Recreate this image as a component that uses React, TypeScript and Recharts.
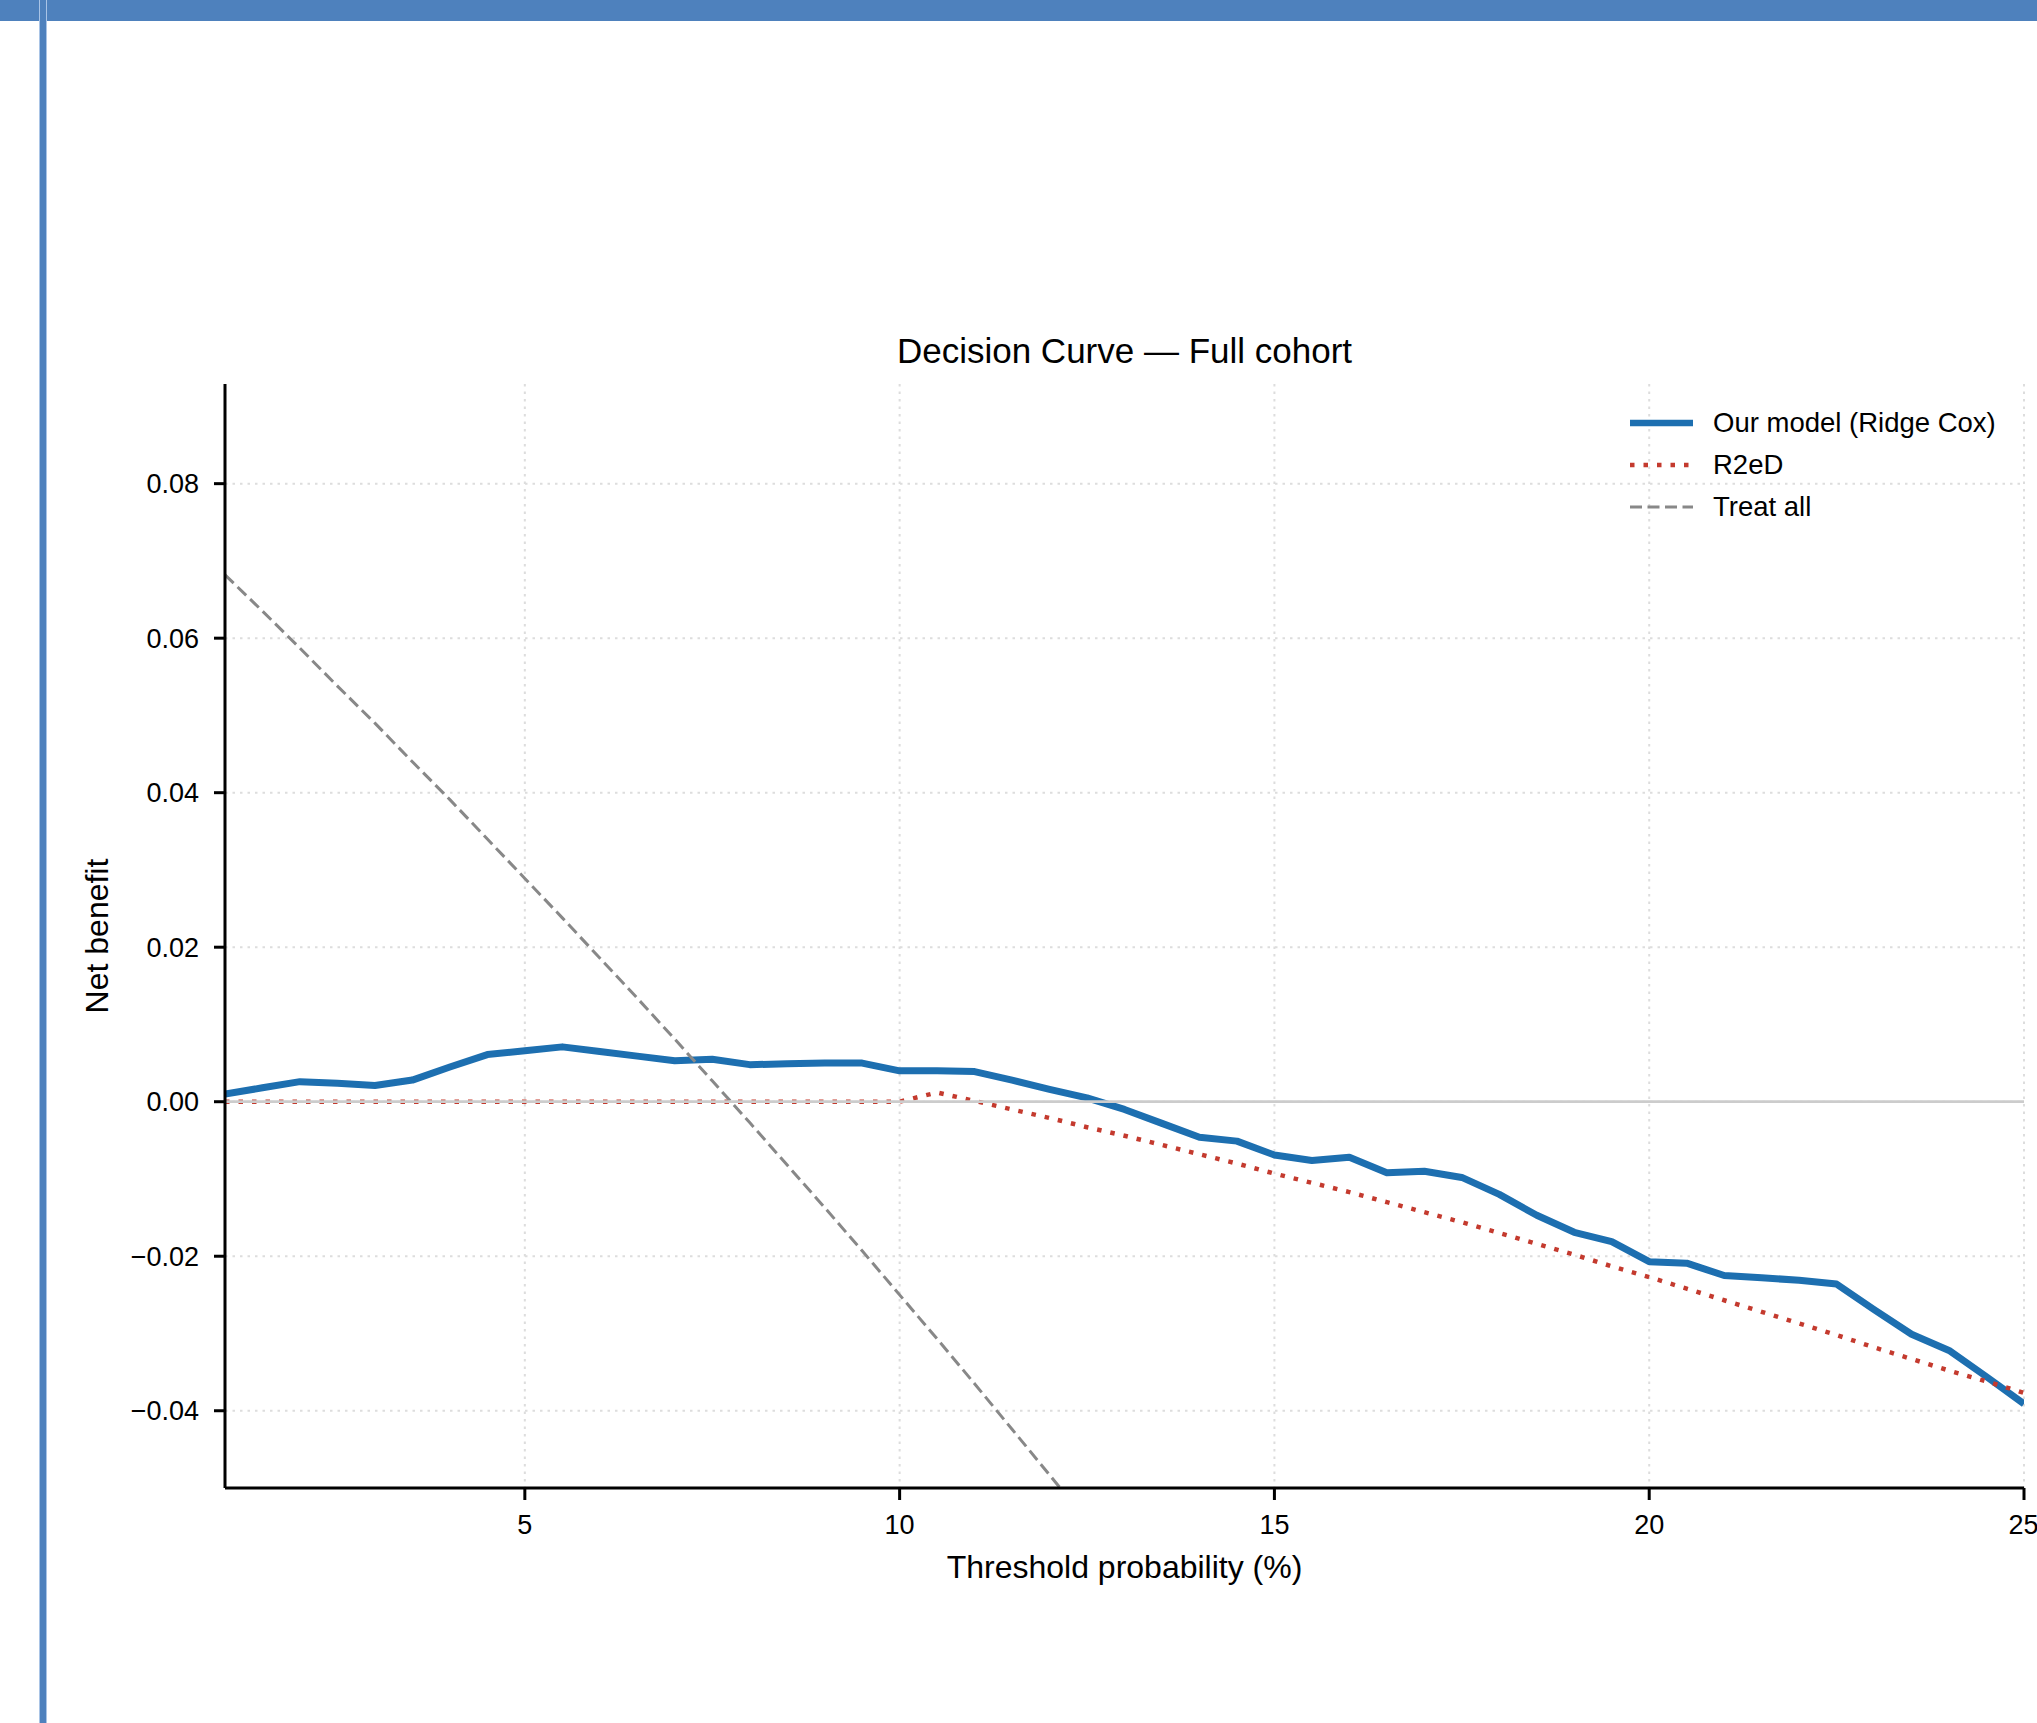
import React from "react";
import {
  LineChart,
  Line,
  XAxis,
  YAxis,
  CartesianGrid,
  ReferenceLine,
  Label,
} from "recharts";

const FONT = '"Liberation Sans", Arial, Helvetica, sans-serif';

const BLUE = "#1d6fb0";
const RED = "#c43a2e";
const GRAY = "#888888";
const FRAME = "#4e81bd";

// threshold probability (%), 0.5 steps
const thresholds = [
  1, 1.5, 2, 2.5, 3, 3.5, 4, 4.5, 5, 5.5, 6, 6.5, 7, 7.5, 8, 8.5, 9, 9.5, 10,
  10.5, 11, 11.5, 12, 12.5, 13, 13.5, 14, 14.5, 15, 15.5, 16, 16.5, 17, 17.5,
  18, 18.5, 19, 19.5, 20, 20.5, 21, 21.5, 22, 22.5, 23, 23.5, 24, 24.5, 25,
];

// net benefit, our model (Ridge Cox)
const modelNB = [
  0.001, 0.0018, 0.0026, 0.0024, 0.0021, 0.0028, 0.0045, 0.0061, 0.0066,
  0.0071, 0.0065, 0.0059, 0.0053, 0.0055, 0.0048, 0.0049, 0.005, 0.005, 0.004,
  0.004, 0.0039, 0.0028, 0.0016, 0.0005, -0.001, -0.0028, -0.0046, -0.0051,
  -0.0069, -0.0076, -0.0072, -0.0092, -0.009, -0.0098, -0.012, -0.0147,
  -0.0169, -0.0181, -0.0207, -0.0209, -0.0225, -0.0228, -0.0231, -0.0236,
  -0.0269, -0.0301, -0.0322, -0.0356, -0.0391,
];

// net benefit, R2eD
const r2edNB = [
  0, 0, 0, 0, 0, 0, 0, 0, 0, 0, 0, 0, 0, 0, 0, 0, 0, 0, 0, 0.0012, 0.0001,
  -0.001, -0.0021, -0.0033, -0.0044, -0.0056, -0.0068, -0.008, -0.0093,
  -0.0105, -0.0117, -0.013, -0.0143, -0.0156, -0.017, -0.0184, -0.0198,
  -0.0213, -0.0227, -0.0242, -0.0257, -0.0272, -0.0287, -0.0302, -0.0318,
  -0.0333, -0.0348, -0.0362, -0.0377,
];

// net benefit, treat all (runs off the bottom after ~12%)
const treatAllNB = [
  0.0682, 0.0635, 0.0587, 0.0538, 0.049, 0.044, 0.0391, 0.034, 0.0289,
  0.0238, 0.0186, 0.0134, 0.0081, 0.0027, -0.0027, -0.0082, -0.0137,
  -0.0193, -0.025, -0.0307, -0.0365, -0.0424, -0.0483, -0.0543, null, null,
  null, null, null, null, null, null, null, null, null, null, null, null, null,
  null, null, null, null, null, null, null, null, null, null,
];

const xTicks = [5, 10, 15, 20, 25];
const yTicks = [-0.04, -0.02, 0, 0.02, 0.04, 0.06, 0.08];

const rows = thresholds.map((t, i) => ({
  t,
  model: modelNB[i],
  r2ed: r2edNB[i],
  treatAll: treatAllNB[i],
}));

const legendItems = [
  { name: "Our model (Ridge Cox)", color: BLUE, width: 6.5, dash: undefined },
  { name: "R2eD", color: RED, width: 4.5, dash: "4.5 9" },
  { name: "Treat all", color: GRAY, width: 3, dash: "12 5.5" },
];

const fmtY = (v: number) =>
  v < 0 ? `\u2212${Math.abs(v).toFixed(2)}` : v.toFixed(2);

const tickStyle = { fontSize: 27, fill: "#000", fontFamily: FONT };

function YTitle(props: any) {
  const vb = props.viewBox;
  const cx = vb.x + 12;
  const cy = vb.y + vb.height / 2;
  return (
    <text
      x={cx}
      y={cy}
      transform={`rotate(-90 ${cx} ${cy})`}
      textAnchor="middle"
      dominantBaseline="central"
      fontSize={32}
      fontFamily={FONT}
      fill="#000"
    >
      Net benefit
    </text>
  );
}

function XTitle(props: any) {
  const vb = props.viewBox;
  return (
    <text
      x={vb.x + vb.width / 2}
      y={vb.y + 90}
      textAnchor="middle"
      fontSize={32}
      fontFamily={FONT}
      fill="#000"
    >
      Threshold probability (%)
    </text>
  );
}

export default function App() {
  return (
    <div
      style={{
        position: "absolute",
        left: 0,
        top: 0,
        width: 2037,
        height: 1723,
        background: "#fff",
        overflow: "hidden",
        fontFamily: FONT,
      }}
    >
      {/* window frame */}
      <div style={{ position: "absolute", left: 0, top: 0, width: 2037, height: 21, background: FRAME }} />
      <div
        style={{
          position: "absolute",
          left: 39,
          top: 0,
          width: 6,
          height: 1723,
          background: FRAME,
          borderLeft: "1px solid #a9c4e6",
          borderRight: "1px solid #a9c4e6",
        }}
      />

      {/* title */}
      <div
        style={{
          position: "absolute",
          left: 225,
          width: 1799,
          top: 333,
          fontSize: 35,
          lineHeight: "35px",
          textAlign: "center",
          color: "#000",
        }}
      >
        Decision Curve — Full cohort
      </div>

      <div style={{ position: "absolute", left: 0, top: 0 }}>
        <LineChart
          width={2037}
          height={1723}
          data={rows}
          margin={{ top: 384, right: 13, bottom: 155, left: 85 }}
        >
          <CartesianGrid
            stroke="#dddddd"
            strokeWidth={2}
            strokeDasharray="2.5 5"
            horizontalValues={yTicks}
            verticalValues={xTicks}
          />
          <XAxis
            type="number"
            dataKey="t"
            domain={[1, 25]}
            ticks={xTicks}
            allowDataOverflow
            height={80}
            tickSize={12}
            tickMargin={15}
            tick={tickStyle}
            axisLine={{ stroke: "#000", strokeWidth: 3 }}
            tickLine={{ stroke: "#000", strokeWidth: 3 }}
          >
            <Label content={XTitle} />
          </XAxis>
          <YAxis
            type="number"
            domain={[-0.05, 0.0929]}
            ticks={yTicks}
            allowDataOverflow
            width={140}
            tickSize={11}
            tickMargin={15}
            tickFormatter={fmtY}
            tick={tickStyle}
            axisLine={{ stroke: "#000", strokeWidth: 3 }}
            tickLine={{ stroke: "#000", strokeWidth: 3 }}
          >
            <Label content={YTitle} />
          </YAxis>
          <Line
            type="linear"
            dataKey="model"
            stroke={BLUE}
            strokeWidth={7}
            strokeLinejoin="round"
            dot={false}
            activeDot={false}
            isAnimationActive={false}
          />
          <Line
            type="linear"
            dataKey="r2ed"
            stroke={RED}
            strokeWidth={4.5}
            strokeDasharray="4.5 9"
            dot={false}
            activeDot={false}
            isAnimationActive={false}
          />
          <Line
            type="linear"
            dataKey="treatAll"
            stroke={GRAY}
            strokeWidth={3}
            strokeDasharray="12 5.5"
            dot={false}
            activeDot={false}
            connectNulls={false}
            isAnimationActive={false}
          />
          <ReferenceLine y={0} stroke="#cccccc" strokeWidth={2.7} />
        </LineChart>
      </div>

      {/* legend */}
      <div style={{ position: "absolute", left: 1630, top: 402 }}>
        {legendItems.map((item) => (
          <div
            key={item.name}
            style={{ display: "flex", alignItems: "center", height: 42 }}
          >
            <svg width={63} height={14} style={{ display: "block" }}>
              <line
                x1={0}
                y1={7}
                x2={63}
                y2={7}
                stroke={item.color}
                strokeWidth={item.width}
                strokeDasharray={item.dash}
              />
            </svg>
            <span style={{ marginLeft: 20, fontSize: 27.5, color: "#000" }}>
              {item.name}
            </span>
          </div>
        ))}
      </div>
    </div>
  );
}
